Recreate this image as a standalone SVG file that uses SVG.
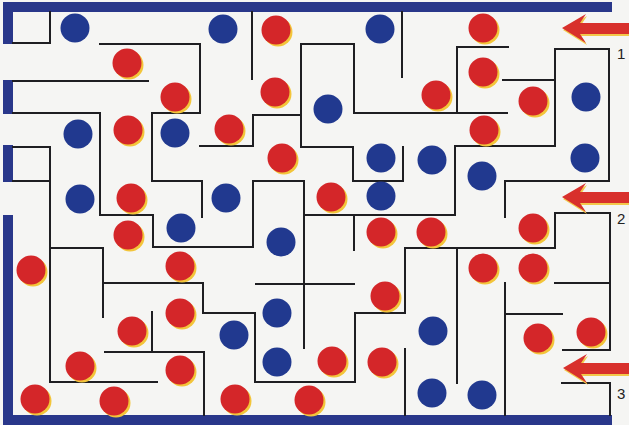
<svg xmlns="http://www.w3.org/2000/svg" width="629" height="425" viewBox="0 0 629 425">
<style>
.w{fill:none;stroke:#1e1e22;stroke-width:2;stroke-linecap:square}
.b{fill:#21398f}
.r{fill:#d42629}
.y{fill:#f3c53a}
.bar{fill:#29378a}
.arr{fill:#d8302c}
.sh{fill:#f2c84a}
.t{font-family:"Liberation Sans",Arial,sans-serif;font-size:15px;fill:#222}
</style>
<defs>
<circle id="bd" r="14.5" class="b"/>
<g id="rd"><circle cx="2" cy="2" r="14.5" class="y"/><circle r="14.5" class="r"/></g>
<g id="ar"><polygon class="sh" points="563,30 587,16 581,25 629,25 629,36 581,36 587,45"/><polygon class="arr" points="562,28 586,14 580,23 629,23 629,34 580,34 586,43"/></g>
</defs>
<rect width="629" height="425" fill="#f5f5f3"/>
<g id="border">
<rect class="bar" x="3" y="2" width="609" height="10"/>
<rect class="bar" x="3" y="2" width="10" height="42"/>
<rect class="bar" x="3" y="80" width="10" height="34"/>
<rect class="bar" x="3" y="145" width="10" height="37"/>
<rect class="bar" x="3" y="215" width="10" height="210"/>
<rect class="bar" x="3" y="415" width="609" height="10"/>
</g>
<g id="walls">
<path class="w" d="M50,12 V43 H13"/>
<path class="w" d="M100,44 H200 V113 H152 V181 H202 V217"/>
<path class="w" d="M13,81 H148"/>
<path class="w" d="M13,113 H100 V215 H153 V247 H253 V181 H304 V348"/>
<path class="w" d="M252,12 V79"/>
<path class="w" d="M507,113 H354 V44 H301 V147 H353 V181 H403 V147"/>
<path class="w" d="M402,12 V77"/>
<path class="w" d="M508,47 H457 V113"/>
<path class="w" d="M503,80 H555"/>
<path class="w" d="M505,217 V181 H609 V49 H555 V146 H455 V215 H304"/>
<path class="w" d="M301,115 H253 V146 H200"/>
<path class="w" d="M13,147 H50 V382 H157"/>
<path class="w" d="M13,181 H50"/>
<path class="w" d="M50,248 H103 V317"/>
<path class="w" d="M103,283 H203 V313 H255 V382 H355 V313 H405 V248 H555 V213 H610 V350 H563"/>
<path class="w" d="M354,215 V250"/>
<path class="w" d="M256,284 H354"/>
<path class="w" d="M152,312 V352"/>
<path class="w" d="M105,352 H204 V415"/>
<path class="w" d="M405,349 V415"/>
<path class="w" d="M457,248 V383"/>
<path class="w" d="M505,283 V415"/>
<path class="w" d="M505,314 H562"/>
<path class="w" d="M555,283 H610"/>
<path class="w" d="M562,383 H610 V415"/>
</g>
<g id="blue-dots">
<use href="#bd" x="75" y="28"/><use href="#bd" x="223" y="29"/><use href="#bd" x="380" y="29"/>
<use href="#bd" x="328" y="109"/><use href="#bd" x="586" y="97"/><use href="#bd" x="78" y="134"/>
<use href="#bd" x="175" y="133"/><use href="#bd" x="381" y="158"/><use href="#bd" x="432" y="160"/>
<use href="#bd" x="585" y="158"/><use href="#bd" x="482" y="176"/><use href="#bd" x="80" y="199"/>
<use href="#bd" x="226" y="198"/><use href="#bd" x="381" y="196"/><use href="#bd" x="181" y="228"/>
<use href="#bd" x="281" y="242"/><use href="#bd" x="277" y="313"/><use href="#bd" x="234" y="335"/>
<use href="#bd" x="277" y="362"/><use href="#bd" x="433" y="331"/><use href="#bd" x="432" y="393"/>
<use href="#bd" x="482" y="395"/>
</g>
<g id="red-dots">
<use href="#rd" x="127" y="63"/><use href="#rd" x="276" y="30"/><use href="#rd" x="483" y="28"/>
<use href="#rd" x="275" y="92"/><use href="#rd" x="175" y="97"/><use href="#rd" x="483" y="72"/>
<use href="#rd" x="436" y="95"/><use href="#rd" x="533" y="101"/><use href="#rd" x="128" y="130"/>
<use href="#rd" x="229" y="129"/><use href="#rd" x="484" y="130"/><use href="#rd" x="282" y="158"/>
<use href="#rd" x="131" y="198"/><use href="#rd" x="331" y="197"/><use href="#rd" x="128" y="235"/>
<use href="#rd" x="381" y="232"/><use href="#rd" x="431" y="232"/><use href="#rd" x="533" y="228"/>
<use href="#rd" x="31" y="270"/><use href="#rd" x="180" y="266"/><use href="#rd" x="483" y="268"/>
<use href="#rd" x="533" y="268"/><use href="#rd" x="385" y="296"/><use href="#rd" x="180" y="313"/>
<use href="#rd" x="132" y="331"/><use href="#rd" x="538" y="338"/><use href="#rd" x="591" y="332"/>
<use href="#rd" x="80" y="366"/><use href="#rd" x="180" y="370"/><use href="#rd" x="332" y="361"/>
<use href="#rd" x="382" y="362"/><use href="#rd" x="35" y="399"/><use href="#rd" x="114" y="401"/>
<use href="#rd" x="235" y="399"/><use href="#rd" x="309" y="400"/>
</g>
<g id="arrows">
<use href="#ar"/>
<use href="#ar" y="169"/>
<use href="#ar" x="1" y="340"/>
</g>
<g id="labels">
<text class="t" x="617" y="59">1</text>
<text class="t" x="617" y="224">2</text>
<text class="t" x="617" y="399">3</text>
</g>
</svg>
